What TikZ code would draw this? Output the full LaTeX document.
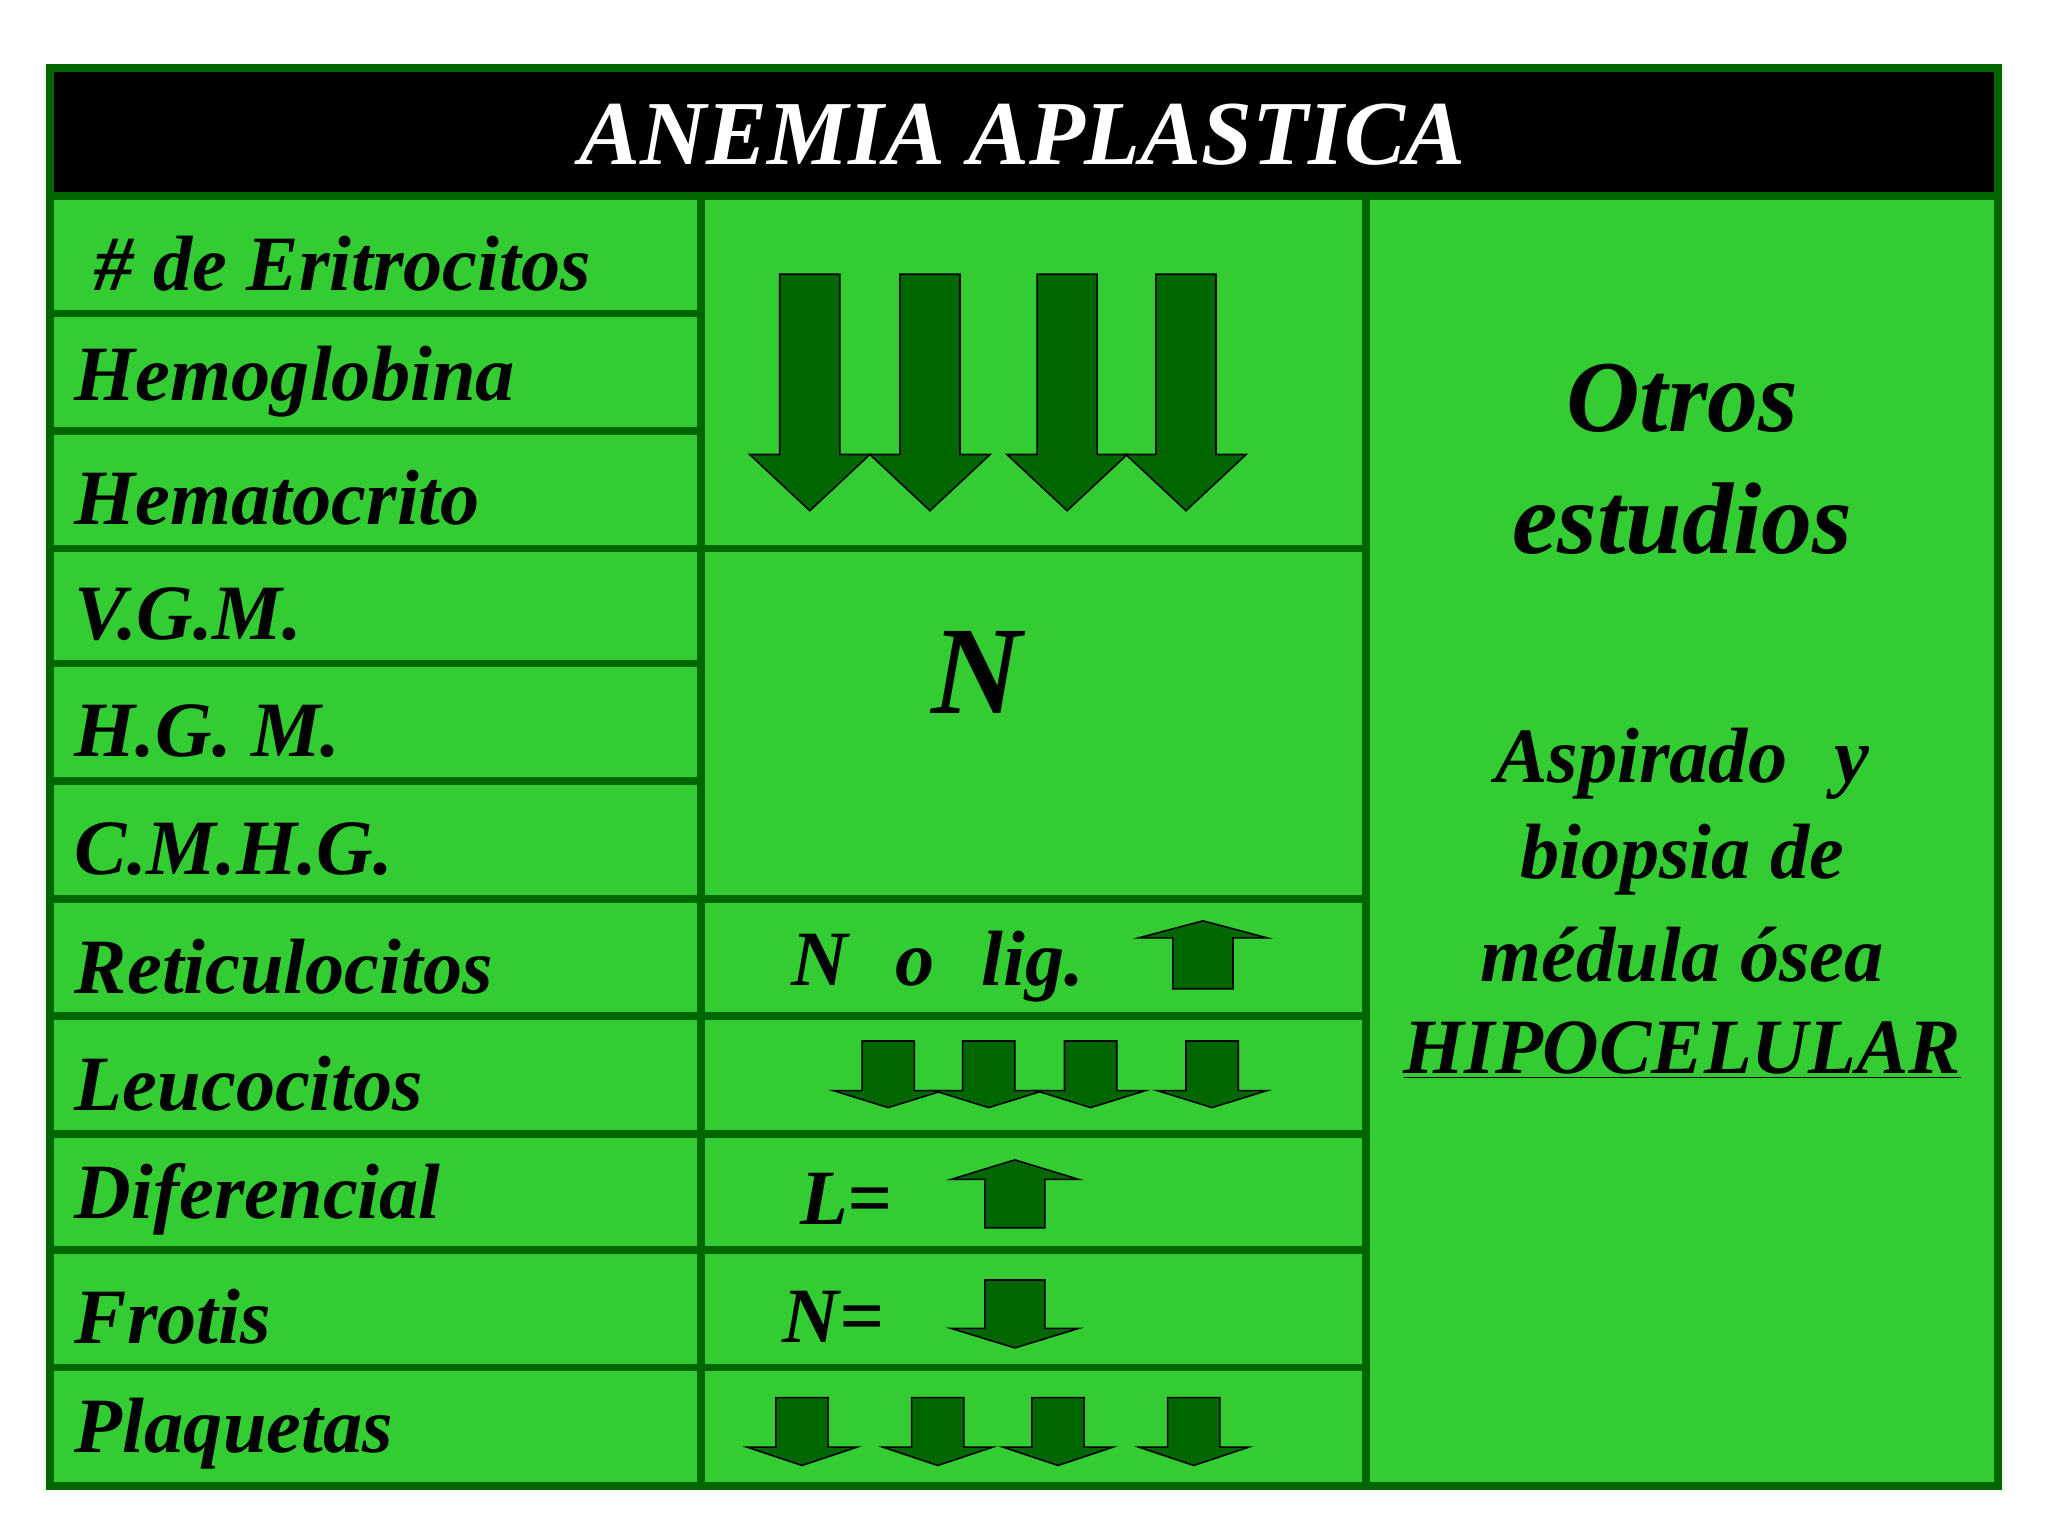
\documentclass[tikz,border=0pt]{standalone}
\usepackage{fontspec}
\setmainfont{Liberation Serif}
\definecolor{gfill}{HTML}{33CC33}
\definecolor{dgreen}{HTML}{006600}
\newcommand{\DnArr}[6]{% cx, top, shaftbottom, tip, shaft half, head half
  \filldraw[fill=dgreen,draw=black,line width=0.6pt] (#1-#5,#2) -- (#1+#5,#2) -- (#1+#5,#3) -- (#1+#6,#3) -- (#1,#4) -- (#1-#6,#3) -- (#1-#5,#3) -- cycle;}
\begin{document}
\begin{tikzpicture}[x=0.5pt,y=-0.5pt,
  lab/.style={anchor=west,font=\fontsize{30}{34}\selectfont\bfseries\itshape,inner sep=0pt},
  mid/.style={font=\fontsize{30}{34}\selectfont\bfseries\itshape,inner sep=0pt},
  big/.style={font=\fontsize{39}{44}\selectfont\bfseries\itshape,inner sep=0pt},
  grid/.style={draw=dgreen,line width=3pt}]
\useasboundingbox (0,0) rectangle (1568,1176);
\fill[white] (0,0) rectangle (1568,1176);
\fill[gfill] (38,50) rectangle (1530,1138);
\fill[black] (40,55) rectangle (1528,150);
\draw[grid] (38,52) rectangle (1530,1138);
\draw[grid] (38,150) -- (1530,150);
\draw[grid] (537,150) -- (537,1138);
\draw[grid] (1046,150) -- (1046,1138);
\foreach \y in {240,330,508,598,778,868,957,1047} \draw[grid] (38,\y) -- (537,\y);
\foreach \y in {420,688,778,868,957,1047} \draw[grid] (38,\y) -- (1046,\y);
\node[font=\fontsize{35}{40}\selectfont\bfseries\itshape,text=white] (title) at (783,103) {ANEMIA APLASTICA};
\node[lab] (l1) at (72,202) {\# de Eritrocitos};
\node[lab] (l2) at (57,292) {Hemoglobina};
\node[lab] (l3) at (57,381) {Hematocrito};
\node[lab] (l4) at (57,470) {V.G.M.};
\node[lab] (l5) at (57,560) {H.G. M.};
\node[lab] (l6) at (57,650) {C.M.H.G.};
\node[lab] (l7) at (57,740) {Reticulocitos};
\node[lab] (l8) at (57,830) {Leucocitos};
\node[lab] (l9) at (57,918) {Diferencial};
\node[lab] (l10) at (57,1008) {Frotis};
\node[lab] (l11) at (57,1098) {Plaquetas};
\DnArr{620}{210}{348}{391}{23}{46}
\DnArr{712}{210}{348}{391}{23}{46}
\DnArr{817}{210}{348}{391}{23}{46}
\DnArr{908}{210}{348}{391}{23}{46}
\node[font=\fontsize{48}{52}\selectfont\bfseries\itshape,inner sep=0pt] (n) at (748,515) {N};
\node[mid] (nolig) at (718,740) {N\hspace{0.6em}o\hspace{0.6em}lig.};
\DnArr{921}{757}{718}{705}{23}{49}
\foreach \c in {680,757,835,928} {\DnArr{\c}{797}{835}{848}{20}{42}}
\node[mid] (L) at (648,918) {L=};
\DnArr{777}{940}{903}{888}{23}{49}
\node[mid] (Nf) at (638,1008) {N=};
\DnArr{777}{980}{1017}{1032}{23}{49}
\foreach \c in {614,718,810,914} {\DnArr{\c}{1070}{1108}{1122}{20}{42}}
\node[big] (o1) at (1288,305) {Otros};
\node[big] (o2) at (1288,397) {estudios};
\node[mid] (a1) at (1288,585) {Aspirado\hspace{0.6em}y};
\node[mid] (a2) at (1288,658) {biopsia de};
\node[mid] (a3) at (1288,731) {médula ósea};
\node[mid] (a4) at (1288,804) {\underline{HIPOCELULAR}};
\end{tikzpicture}
\end{document}
